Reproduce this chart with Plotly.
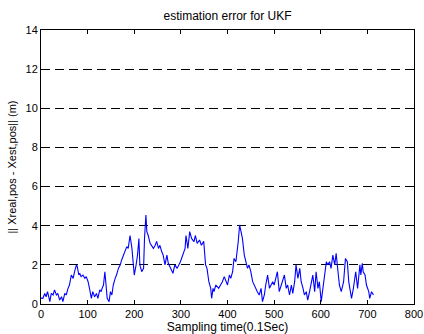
import plotly.graph_objects as go

sample = [0, 4, 8, 11, 14, 16, 19, 22, 26, 29, 33, 36, 40, 44, 47, 51, 54, 58, 61, 65, 69, 72, 76, 78, 81, 83,
          86, 90, 94, 97, 101, 104, 108, 111, 115, 119, 122, 126, 129, 131, 134, 137, 140, 142, 146, 149, 152,
          155, 159, 162, 166, 170, 173, 177, 180, 184, 187, 191, 195, 198, 200, 204, 207, 210, 212, 216, 220,
          222, 225, 227, 230, 234, 237, 241, 245, 248, 252, 255, 259, 262, 266, 270, 273, 280, 283, 287, 292,
          299, 304, 309, 311, 315, 319, 323, 328, 331, 335, 340, 344, 349, 353, 356, 360, 364, 366, 369, 371,
          375, 381, 389, 393, 397, 400, 404, 407, 411, 414, 418, 420, 423, 426, 429, 432, 436, 439, 443, 446,
          450, 454, 457, 461, 464, 468, 472, 475, 479, 482, 486, 490, 493, 497, 500, 504, 507, 511, 515, 518,
          522, 526, 529, 533, 537, 540, 544, 547, 551, 555, 558, 562, 565, 569, 572, 576, 580, 583, 587, 590,
          594, 597, 601, 605, 608, 612, 615, 619, 622, 626, 630, 633, 637, 640, 644, 649, 653, 657, 660, 664,
          666, 670, 672, 675, 679, 682, 684, 686, 689, 691, 695, 698, 700, 703, 705, 709, 713]
error = [0.30, 0.29, 0.54, 0.37, 0.63, 0.46, 0.12, 0.54, 0.46, 0.72, 0.46, 0.54, 0.20, 0.37, 0.12, 0.54, 0.46,
         0.80, 0.97, 1.48, 1.31, 1.65, 2.00, 1.90, 1.48, 1.57, 1.40, 1.48, 1.31, 1.40, 1.14, 0.80, 0.29, 0.63,
         0.37, 0.54, 0.29, 0.72, 0.63, 0.80, 0.97, 1.65, 0.63, 0.29, 0.12, 0.63, 0.46, 0.97, 1.31, 1.48, 1.82,
         2.00, 2.25, 2.50, 2.67, 2.93, 2.84, 3.50, 2.84, 1.90, 1.48, 2.00, 2.50, 3.35, 2.00, 1.65, 1.82, 3.35,
         4.55, 3.70, 3.50, 3.10, 3.00, 2.84, 3.00, 3.20, 2.84, 3.00, 2.67, 2.50, 2.00, 2.50, 2.08, 1.65, 1.57,
         2.00, 1.82, 2.16, 2.50, 2.84, 3.50, 2.84, 3.70, 3.35, 3.18, 3.50, 3.10, 3.27, 3.00, 3.20, 2.00, 1.82,
         1.14, 0.80, 0.29, 0.80, 0.63, 0.97, 0.80, 1.14, 1.40, 1.14, 0.97, 1.48, 1.31, 1.65, 2.33, 2.16, 2.50,
         3.18, 4.04, 3.70, 3.35, 2.50, 2.16, 1.82, 2.00, 1.65, 1.14, 0.97, 0.80, 0.63, 0.46, 0.80, 0.12, 0.46,
         0.97, 1.48, 0.80, 0.97, 1.14, 0.97, 1.31, 1.65, 0.63, 0.97, 1.14, 1.48, 0.80, 0.97, 0.46, 0.97, 0.54,
         1.14, 2.00, 1.31, 1.82, 1.14, 0.80, 0.46, 0.63, 0.20, 0.63, 1.14, 1.48, 0.63, 1.65, 0.80, 1.14, 0.12,
         0.97, 1.65, 2.16, 2.00, 2.16, 1.82, 2.50, 2.00, 2.59, 1.65, 0.97, 0.63, 1.14, 2.33, 2.16, 1.14, 0.46,
         0.29, 0.80, 1.14, 1.65, 0.80, 1.65, 2.00, 1.48, 2.08, 1.65, 1.48, 0.97, 0.80, 0.63, 0.29, 0.63, 0.46,
         0.54, 0.60]

x_ticks = [0, 100, 200, 300, 400, 500, 600, 700, 800]
y_ticks = [0, 2, 4, 6, 8, 10, 12, 14]

font = dict(family="Liberation Sans, Arial", size=11, color="black")
font12 = dict(family="Liberation Sans, Arial", size=12, color="black")

fig = go.Figure()
fig.add_trace(go.Scatter(x=sample, y=error, mode="lines",
                         line=dict(color="#0000FF", width=1.1), showlegend=False))

fig.update_layout(
    width=424, height=334,
    margin=dict(l=41, r=10, t=30, b=30, autoexpand=False),
    paper_bgcolor="white", plot_bgcolor="white",
    font=font,
    title=dict(text="estimation error for UKF", x=0.5, xref="paper", xanchor="center",
               y=1 - 16 / 334, yanchor="middle", font=font12),
)
fig.update_xaxes(range=[0, 800], tickvals=x_ticks, ticks="inside", ticklen=4, tickcolor="black",
                 showline=True, linecolor="black", linewidth=1, mirror="ticks", showgrid=False,
                 zeroline=False, tickfont=font, automargin=False, ticklabelstandoff=0,
                 title=dict(text="Sampling time(0.1Sec)", font=font12, standoff=0))
fig.update_yaxes(range=[0, 14], tickvals=y_ticks, ticks="inside", ticklen=4, tickcolor="black",
                 showline=True, linecolor="black", linewidth=1, mirror="ticks", showgrid=True,
                 gridcolor="black", griddash="9px,5px", gridwidth=1, zeroline=False, tickfont=font,
                 automargin=False, ticklabelstandoff=0,
                 title=dict(text="|| Xreal,pos - Xest,pos|| (m)", font=font, standoff=6))

fig.write_html("out.html")
